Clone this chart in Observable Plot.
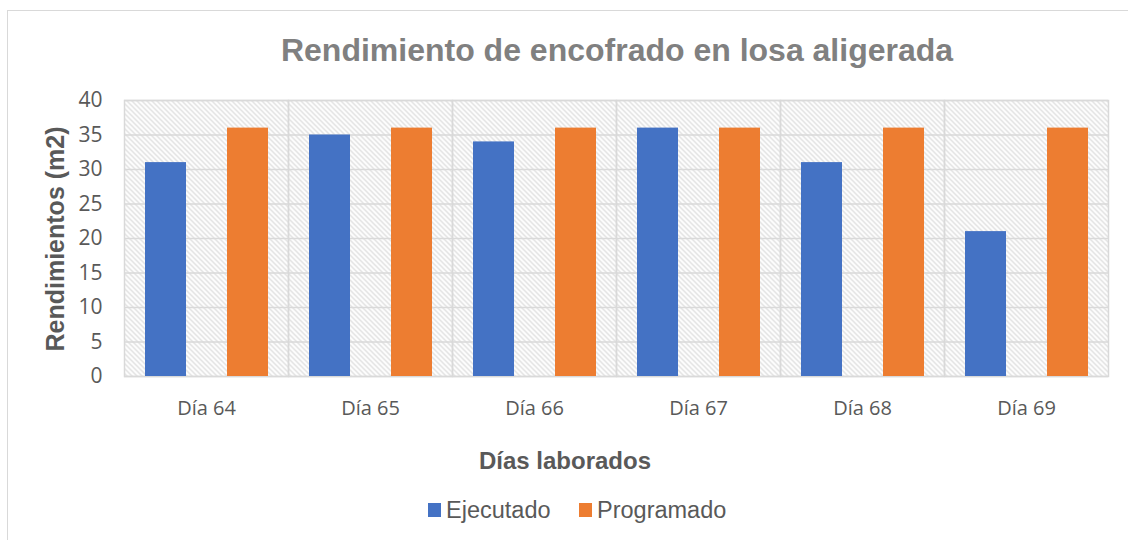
<!DOCTYPE html>
<html>
<head>
<meta charset="utf-8">
<script src="https://cdn.jsdelivr.net/npm/d3@7"></script>
<script src="https://cdn.jsdelivr.net/npm/@observablehq/plot@0.6"></script>
<style>
  html, body { margin: 0; padding: 0; background: #fff; overflow: hidden; }
  #wrap { position: relative; width: 1128px; height: 540px; overflow: hidden; }
  #box { position: absolute; left: 7px; top: 10px; width: 1200px; height: 600px; border: 1px solid #d9d9d9; box-sizing: border-box; }
  .t { position: absolute; white-space: nowrap; line-height: 1; }
  #title { left: 617px; top: 32px; transform: translateX(-50%); font: bold 32px "Liberation Sans", Arial, sans-serif; color: #808080; }
  #ytitle { left: 55px; top: 239px; transform: translate(-50%, -50%) rotate(-90deg); font: bold 25px "Liberation Sans", Arial, sans-serif; color: #595959; }
  #xtitle { left: 565px; top: 447px; transform: translateX(-50%); font: bold 24px "Liberation Sans", Arial, sans-serif; color: #595959; }
  .sw { position: absolute; width: 13px; height: 14px; top: 503px; }
  .lg { top: 497px; font: 23.5px "Liberation Sans", Arial, sans-serif; color: #595959; }
  #chart { position: absolute; left: 0; top: 80px; }
</style>
</head>
<body>
<div id="wrap">
  <div id="box"></div>
  <div class="t" id="title">Rendimiento de encofrado en losa aligerada</div>
  <div class="t" id="ytitle">Rendimientos (m2)</div>
  <div id="chart"></div>
  <div class="t" id="xtitle">Días laborados</div>
  <div class="sw" id="sw0" style="left:428px"></div>
  <div class="t lg" id="lg0" style="left:446px"></div>
  <div class="sw" id="sw1" style="left:579px"></div>
  <div class="t lg" id="lg1" style="left:597px"></div>
</div>
<script>
const days = ["Día 64", "Día 65", "Día 66", "Día 67", "Día 68", "Día 69"];
const series = ["Ejecutado", "Programado"];
const ejecutado = [31, 35, 34, 36, 31, 21];
const programado = [36, 36, 36, 36, 36, 36];
const yTicks = [0, 5, 10, 15, 20, 25, 30, 35, 40];
const colors = ["#4472C4", "#ED7D31"];

const data = [];
days.forEach((d, i) => {
  data.push({day: d, serie: series[0], value: ejecutado[i]});
  data.push({day: d, serie: series[1], value: programado[i]});
});

const grid = "#d9d9d9";

const svg = Plot.plot({
  width: 1128,
  height: 360,
  marginLeft: 123,
  marginRight: 19,
  marginTop: 20,
  marginBottom: 64,
  style: {fontFamily: "'Open Sans', sans-serif", background: "transparent"},
  fx: {domain: days, padding: 0, label: null},
  x: {domain: series, paddingInner: 0.5, paddingOuter: 0.25, axis: null},
  y: {domain: [0, 40], label: null},
  color: {domain: series, range: colors},
  marks: [
    Plot.frame({fill: "url(#hatch)", stroke: "none"}),
    Plot.gridY(yTicks, {stroke: grid, strokeOpacity: 1, strokeWidth: 1.5}),
    Plot.frame({stroke: grid, strokeWidth: 1.5}),
    Plot.barY(data, {fx: "day", x: "serie", y: "value", fill: "serie"}),
    Plot.axisY(yTicks, {tickSize: 0, tickPadding: 22, fontSize: 21, fill: "#595959", label: null}),
    Plot.axisFx({anchor: "bottom", tickSize: 0, tickPadding: 24, fontSize: 20, fill: "#595959", label: null})
  ]
});

d3.select(svg).insert("defs", ":first-child").html(
  '<pattern id="hatch" patternUnits="userSpaceOnUse" width="5" height="5">' +
  '<rect width="5" height="5" fill="#ffffff"/>' +
  '<path d="M0,0L5,5M-1,4L1,6M4,-1L6,1" stroke="#d6d6d6" stroke-width="1.2"/>' +
  '</pattern>'
);

document.getElementById("chart").appendChild(svg);

series.forEach((s, i) => {
  document.getElementById("sw" + i).style.background = colors[i];
  document.getElementById("lg" + i).textContent = s;
});
</script>
</body>
</html>
